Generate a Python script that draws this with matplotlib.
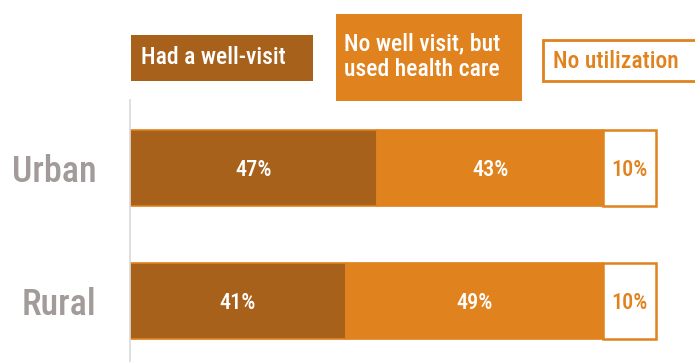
import matplotlib
matplotlib.use("Agg")
import matplotlib.pyplot as plt
from matplotlib.patches import Rectangle

categories = ["Urban", "Rural"]
had_well_visit = [47, 41]
no_well_visit_used_care = [43, 49]
no_utilization = [10, 10]
series_names = ["Had a well-visit", "No well visit, but\nused health care", "No utilization"]

DARK = "#A8611A"
ORANGE = "#E0821E"
GREY = "#A39A9A"
FONT = ['Roboto Condensed', 'DejaVu Sans']
plt.rcParams['font.family'] = FONT
plt.rcParams['font.weight'] = 'medium'

W, H = 695, 362
fig = plt.figure(figsize=(W / 100, H / 100), dpi=100)
ax = fig.add_axes([130 / W, 0, 526 / W, 1 - 100 / H])

ypos = [1, 0]
bh = 0.571
ax.barh(ypos, had_well_visit, height=bh, color=DARK, edgecolor=ORANGE, linewidth=1.2)
ax.barh(ypos, no_well_visit_used_care, left=had_well_visit, height=bh, color=ORANGE,
        edgecolor=ORANGE, linewidth=1.2)
left3 = [a + b for a, b in zip(had_well_visit, no_well_visit_used_care)]
b3 = ax.barh(ypos, no_utilization, left=left3, height=bh, color="white",
             edgecolor=ORANGE, linewidth=1.8)
for p in b3:
    p.set_clip_on(False)

for y, a, b, c, l3 in zip(ypos, had_well_visit, no_well_visit_used_care, no_utilization, left3):
    kw = dict(ha="center", va="center_baseline", fontsize=16, fontweight="medium")
    ax.text(a / 2, y, f"{a}%", color="white", **kw)
    ax.text(a + b / 2, y, f"{b}%", color="white", **kw)
    ax.text(l3 + c / 2, y, f"{c}%", color=ORANGE, **kw)

ax.set_xlim(0, 100)
ax.set_ylim(-0.459, 1.511)
ax.set_yticks(ypos)
ax.set_yticklabels(categories, fontsize=26, color=GREY, fontweight="medium")
ax.tick_params(axis="y", length=0, pad=24)
ax.set_xticks([])
for s in ["top", "right", "bottom"]:
    ax.spines[s].set_visible(False)
ax.spines["left"].set_color("#D9D9D9")
ax.spines["left"].set_linewidth(1.2)


def px_rect(x0, y0, x1, y1, **kw):
    r = Rectangle((x0 / W, 1 - y1 / H), (x1 - x0) / W, (y1 - y0) / H,
                  transform=fig.transFigure, **kw)
    fig.patches.append(r)


px_rect(131, 35, 313, 81, facecolor=DARK, edgecolor="none")
fig.text(141 / W, 1 - 58 / H, series_names[0], ha="left", va="center", color="white",
         fontsize=17, fontweight="medium")
px_rect(336, 14, 522, 101, facecolor=ORANGE, edgecolor="none")
fig.text(344 / W, 1 - 57 / H, series_names[1], ha="left", va="center", color="white",
         fontsize=17, linespacing=1.15, fontweight="medium")
px_rect(543, 40, 700, 81, facecolor="white", edgecolor=ORANGE, linewidth=2)
fig.text(553 / W, 1 - 62 / H, series_names[2], ha="left", va="center", color=ORANGE,
         fontsize=17, fontweight="medium")

fig.savefig("out.png", dpi=100)
